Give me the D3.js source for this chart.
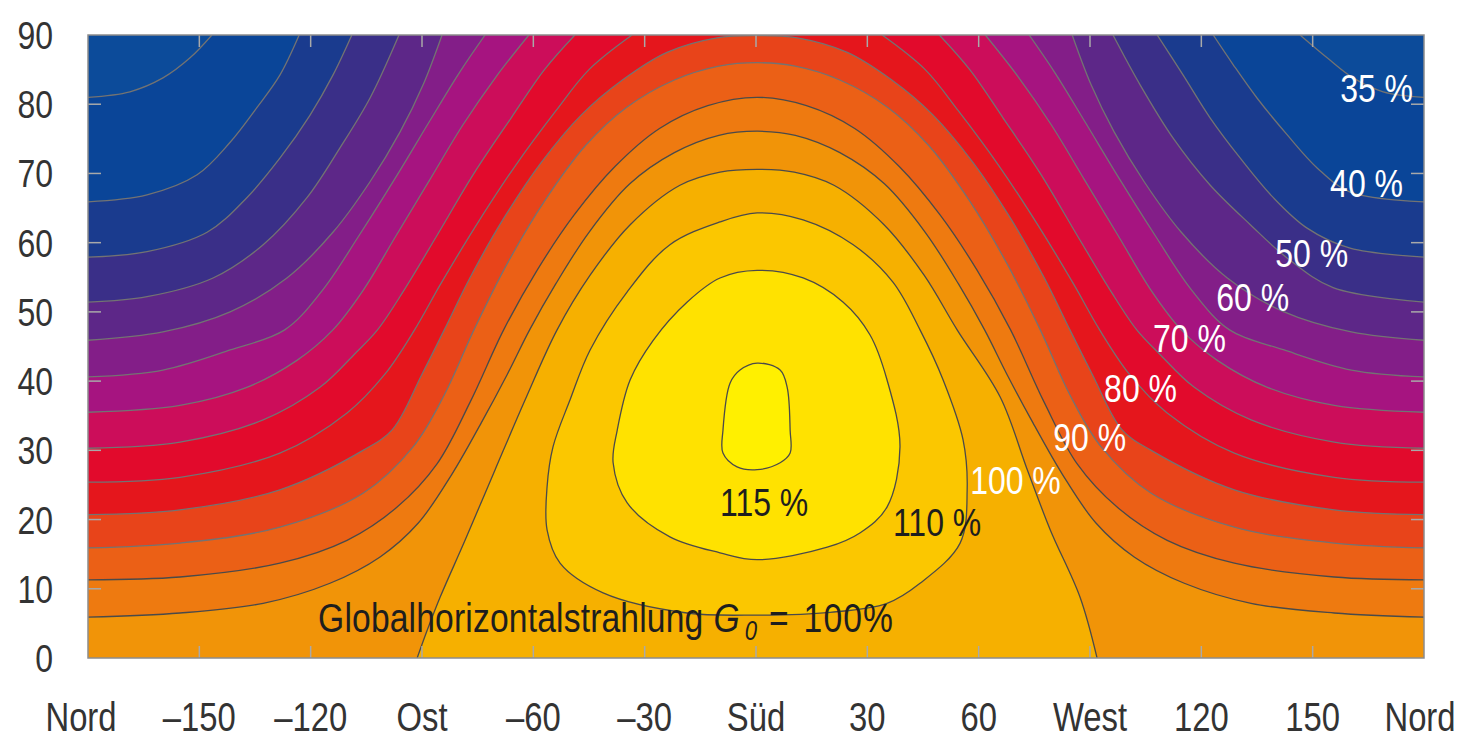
<!DOCTYPE html>
<html><head><meta charset="utf-8">
<script src="https://cdn.jsdelivr.net/npm/d3@7"></script>
<style>
html,body{margin:0;padding:0;background:#fff;}
svg{display:block;}
</style></head><body>
<svg id="chart" width="1466" height="739"></svg>
<script>
// ---------- data ----------
const azimuthTicks = [-180,-150,-120,-90,-60,-30,0,30,60,90,120,150,180];
const azimuthLabels = ["Nord","–150","–120","Ost","–60","–30","Süd","30","60","West","120","150","Nord"];
const tiltTicks = [0,10,20,30,40,50,60,70,80,90];
const levels = [35,40,45,50,55,60,65,70,75,80,85,90,95,100,105,110,115];
const closedLevels = [105,110,115];
const bandColors = ["#0c4b9a","#0a4598","#1a3b8e","#3a2f88","#5d2788","#831e88","#a61480","#cc0d5a",
                    "#e20a2c","#e5161c","#e8441a","#eb6016","#ee7a10","#f19408","#f6b000","#fbc700","#ffe200","#fff000"];

const line35 = [
 [[-180,81.0],[-168.7,81.8],[-159.8,83.8],[-152.5,86.7],[-146.6,90]],
 [[146.6,90],[153.9,86.7],[160.9,83.8],[169.0,81.8],[180,81.0]]];
const line40 = [
 [[-180,65.9],[-164.1,66.9],[-150.6,69.8],[-141.7,74.5],[-134.5,79.5],[-128.3,84.2],[-123.1,90]],
 [[123.2,90],[128.6,85.7],[135.0,80.9],[143.1,75.6],[151.2,70.8],[160.1,67.3],[180,65.9]]];
const line45 = [
 [[-180,57.9],[-164.1,58.7],[-147.9,61.5],[-137.2,66.5],[-128.3,72.2],[-120.2,78.4],[-114.0,84.2],[-108.9,90]],
 [[108.1,90],[115.1,84.2],[122.4,78.0],[130.5,72.2],[139.4,66.5],[148.5,62.1],[160.1,59.2],[180,57.9]]];
const line50 = [
 [[-180,51.4],[-164.1,52.2],[-146.3,54.9],[-132.8,59.7],[-121.0,66.5],[-112.1,73.7],[-104.0,80.9],[-96.2,90]],
 [[96.2,90],[103.5,82.8],[112.4,75.1],[122.4,68.3],[133.2,62.6],[143.1,57.8],[155.5,53.5],[180,51.4]]];
const line55 = [
 [[-180,45.9],[-159.8,47.1],[-141.7,50.0],[-126.4,54.9],[-114.0,61.5],[-104.0,68.8],[-95.9,76.0],[-89.7,82.8],[-84.6,90]],
 [[85.2,90],[90.3,82.8],[96.5,76.0],[104.6,68.8],[114.6,61.5],[127.0,54.9],[142.3,50.0],[160.4,47.1],[180,45.9]]];
const line60 = [
 [[-180,40.6],[-159.8,41.6],[-141.7,44.5],[-127,47.4],[-117,53],[-107,61],[-97,69.5],[-88,77.5],[-80,84.5],[-73.0,90]],
 [[73.6,90],[80.6,84.5],[88.6,77.5],[97.6,69.5],[107.6,61],[117.6,53],[127.6,47.4],[142.3,44.5],[160.4,41.6],[180,40.6]]];
const line65 = [
 [[-180,35.5],[-155.2,36.5],[-137.2,39.1],[-123.7,43.0],[-114,47.4],[-106,53],[-97,61],[-88,69],[-79,77],[-70,84],[-61.2,90]],
 [[61.8,90],[70.6,84],[79.6,77],[88.6,69],[97.6,61],[106.6,53],[114.6,47.4],[124.3,43.0],[137.8,39.1],[155.8,36.5],[180,35.5]]];
const line70 = [
 [[-180,30.3],[-155.2,31.2],[-132.8,34.4],[-117.5,39.1],[-108,44],[-102,47.4],[-95,53],[-86,61],[-76,70],[-66,78],[-57,85],[-48.8,90]],
 [[49.4,90],[57.6,85],[66.6,78],[76.6,70],[86.6,61],[95.6,53],[102.6,47.4],[108.6,44],[118.1,39.1],[133.4,34.4],[155.8,31.2],[180,30.3]]];
const line75 = [
 [[-180,25.4],[-155.2,26.1],[-128.3,29.6],[-110.2,35.4],[-100,41],[-92,47.4],[-85,54],[-76,62],[-65,71],[-54,79],[-45,85],[-33.4,90]],
 [[34.0,90],[45.6,85],[54.6,79],[65.6,71],[76.6,62],[85.6,54],[92.6,47.4],[100.6,41],[110.8,35.4],[128.9,29.6],[155.8,26.1],[180,25.4]]];
const line80 = [
 [[-180,20.7],[-155.2,21.4],[-128.3,24.3],[-105.9,30.0],[-98,33],[-90,41],[-84,47.4],[-77,55],[-68,63.5],[-58,71.5],[-47,78.5],[-36,83.5],[-24,87.5],[-10.5,89.6],[0.3,89.9],
  [11.1,89.6],[24.6,87.5],[36.6,83.5],[47.6,78.5],[58.6,71.5],[68.6,63.5],[77.6,55],[84.6,47.4],[90.6,41],[98.6,33],[106.5,30.0],[128.9,24.3],[155.8,21.4],[180,20.7]]];
const line85 = [
 [[-180,15.9],[-155.2,16.6],[-128.3,18.9],[-105.9,23.8],[-92.4,30.5],[-84,38],[-76,47.4],[-67,57],[-57,66],[-46,74],[-35,79.5],[-22,83.5],[-10,85.5],[0.3,86.0],
  [10.6,85.5],[22.6,83.5],[35.6,79.5],[46.6,74],[57.6,66],[67.6,57],[76.6,47.4],[84.6,38],[93,30.5],[106.5,23.8],[128.9,18.9],[155.8,16.6],[180,15.9]]];
const line90 = [
 [[-180,11.3],[-155.2,11.7],[-128.3,13.7],[-110.2,17.0],[-96.7,21.8],[-86,28],[-77,37],[-68,47.4],[-59,56],[-49,64],[-38,71],[-26,76.5],[-13,79.8],[0.3,81.0],
  [13.6,79.8],[26.6,76.5],[38.6,71],[49.6,64],[59.6,56],[68.6,47.4],[77.6,37],[86.6,28],[97.3,21.8],[110.8,17.0],[128.9,13.7],[155.8,11.7],[180,11.3]]];
const line95 = [
 [[-180,5.9],[-155.2,6.5],[-132.8,7.9],[-114.8,10.8],[-101.3,14.6],[-91,19.5],[-82,26.5],[-74,34],[-67,41],[-61,47.4],[-54,54],[-45,61.5],[-34,68.5],[-22,73],[-10,75.5],[0.3,76.1],
  [10.6,75.5],[22.6,73],[34.6,68.5],[45.6,61.5],[54.6,54],[61.6,47.4],[67.6,41],[74.6,34],[82.6,26.5],[91.6,19.5],[101.9,14.6],[115.4,10.8],[133.4,7.9],[155.8,6.5],[180,5.9]]];
const line100 = [
 [[-91.3,0],[-88.6,4.0],[-85.1,8.8],[-78.4,17.0],[-70.3,27.2],[-62.2,37.3],[-53.6,47.4],[-44.7,55.3],[-33.9,62.6],[-20.5,68.3],[-9.7,70.2],[0.3,70.6],
  [10.3,70.2],[21.0,68.3],[34.5,62.6],[45.3,55.3],[54.2,47.4],[65.8,37.7],[73.1,27.2],[79.3,18.5],[87.3,8.8],[91.9,0]]];
const line105 = [
 [[0.3,6.2],[-18.6,6.5],[-41.2,9.4],[-52.8,13.7],[-56.3,18.5],[-56.3,24.7],[-54.7,30.5],[-50.1,37.3],[-44.7,44.5],[-34.7,52.9],[-23.2,59.7],[-9.7,63.0],[0.3,64.3],
  [12.7,63.3],[26.2,59.7],[36.9,54.3],[44.2,47.4],[50.4,40.2],[55.8,31.5],[56.9,24.3],[55.0,16.6],[44.2,10.8],[35.3,7.9],[20.0,6.6]]];
const line110 = [
 [[0.3,14.2],[-9.7,15.2],[-23.2,17.5],[-34.7,22.4],[-38.5,28.2],[-37.4,32.9],[-33.9,40.2],[-27.7,45.9],[-18.6,51.4],[-9.7,54.9],[0.3,56.0],
  [12.7,54.9],[23.5,51.4],[30.7,46.7],[35.3,40.2],[38.8,30.5],[35.3,21.8],[28.1,18.1],[19.2,16.0]]];
const line115 = [
 [[0.3,42.6],[6.5,41.6],[8.4,39.1],[9.2,32.9],[9.2,29.6],[6.5,28.2],[0.3,27.2],[-5.1,27.6],[-8.9,29.6],[-8.9,32.9],[-7.0,39.7],[-4.3,41.6]]];
const contourLines = [line35,line40,line45,line50,line55,line60,line65,line70,line75,line80,line85,line90,line95,line100,line105,line110,line115];

const labelTexts = ["35 %","40 %","50 %","60 %","70 %","80 %","90 %","100 %","110 %","115 %"];
const labelAnchors = [[157.4,80.3],[154.7,66.6],[139.9,56.5],[124.0,50.1],[107.0,44.2],[93.8,37.0],[80.1,29.9],[57.7,23.7],[36.9,17.6],[-9.7,20.5]];
const labelDark = [false,false,false,false,false,false,false,false,true,true];
const noteParts = ["Globalhorizontalstrahlung","G","0","=","100%"];
const noteAnchor = [-118.0,3.8];

// ---------- drawing ----------
const svg = d3.select("#chart");
const x = d3.scaleLinear().domain([-180,180]).range([88,1424]);
const y = d3.scaleLinear().domain([0,90]).range([658,35]);

const ctx = document.createElement("canvas").getContext("2d");
ctx.font = '40px "Liberation Sans Narrow", monospace';
const wN = ctx.measureText("West Nord").width;
ctx.font = '40px monospace';
const wM = ctx.measureText("West Nord").width;
const hasNarrow = Math.abs(wN - wM) > 1;
const FONT = hasNarrow ? '"Liberation Sans Narrow", "Liberation Sans", Arial, sans-serif' : '"Liberation Sans", Arial, sans-serif';
function condense(sel){
  if (hasNarrow) return;
  sel.each(function(){
    const len = this.getComputedTextLength();
    d3.select(this).attr("textLength", len*0.82).attr("lengthAdjust","spacingAndGlyphs");
  });
}

const defs = svg.append("defs");
defs.append("clipPath").attr("id","plotclip").append("rect")
  .attr("x", x(-180)).attr("y", y(90)).attr("width", x(180)-x(-180)).attr("height", y(0)-y(90));

const g = svg.append("g").attr("clip-path","url(#plotclip)");
g.append("rect").attr("x", x(-180)).attr("y", y(90)).attr("width", x(180)-x(-180)).attr("height", y(0)-y(90))
  .attr("fill", bandColors[0]);

const openGen = d3.line().x(d=>x(d[0])).y(d=>y(d[1])).curve(d3.curveCatmullRom.alpha(0.5));
const loopGen = d3.line().x(d=>x(d[0])).y(d=>y(d[1])).curve(d3.curveCatmullRomClosed.alpha(0.5));

function fillPath(pieces, closed){
  if (closed) return loopGen(pieces[0]);
  let s = pieces.map((p,i)=>{ const d = openGen(p); return i===0 ? d : "L" + d.slice(1); }).join("");
  const last = pieces[pieces.length-1], lp = last[last.length-1];
  if (lp[0] === 180) s += `L${x(180)},${y(0)}L${x(-180)},${y(0)}`;
  return s + "Z";
}

levels.forEach((lv,i)=>{
  const closed = closedLevels.includes(lv);
  g.append("path").attr("d", fillPath(contourLines[i], closed)).attr("fill", bandColors[i+1]);
});
levels.forEach((lv,i)=>{
  const closed = closedLevels.includes(lv);
  contourLines[i].forEach(p=>{
    g.append("path").attr("d", closed ? loopGen(p) : openGen(p))
      .attr("fill","none").attr("stroke", lv >= 90 ? "#4a4a4a" : "#737373").attr("stroke-width",1.3);
  });
});

const tickCol = "#a9a9a9";
azimuthTicks.slice(1,-1).forEach(a=>{
  svg.append("line").attr("x1",x(a)).attr("x2",x(a)).attr("y1",y(90)).attr("y2",y(90)+12).attr("stroke",tickCol).attr("stroke-width",1.5);
  svg.append("line").attr("x1",x(a)).attr("x2",x(a)).attr("y1",y(0)).attr("y2",y(0)-12).attr("stroke",tickCol).attr("stroke-width",1.5);
});
tiltTicks.slice(1,-1).forEach(t=>{
  svg.append("line").attr("x1",x(-180)).attr("x2",x(-180)+13).attr("y1",y(t)).attr("y2",y(t)).attr("stroke",tickCol).attr("stroke-width",1.5);
  svg.append("line").attr("x1",x(180)).attr("x2",x(180)-13).attr("y1",y(t)).attr("y2",y(t)).attr("stroke",tickCol).attr("stroke-width",1.5);
});

svg.append("rect").attr("x", x(-180)).attr("y", y(90)).attr("width", x(180)-x(-180)).attr("height", y(0)-y(90))
  .attr("fill","none").attr("stroke","#8c8c8c").attr("stroke-width",1.5);

const yl = svg.append("g").selectAll("text").data(tiltTicks).join("text")
  .attr("x", 53).attr("y", d=>y(d)).attr("dy","0.36em").attr("text-anchor","end")
  .attr("font-family", FONT).attr("font-size", 39).attr("fill","#333")
  .text(d=>d);
condense(yl);
const xl = svg.append("g").selectAll("text").data(azimuthTicks).join("text")
  .attr("x", (d,i)=>x(d) + (i===0 ? -7 : (i===azimuthTicks.length-1 ? -4 : 0))).attr("y", 731).attr("text-anchor","middle")
  .attr("font-family", FONT).attr("font-size", 40).attr("fill","#333")
  .text((d,i)=>azimuthLabels[i]);
condense(xl);

const ll = svg.append("g").selectAll("text").data(labelTexts).join("text")
  .attr("x",(d,i)=>x(labelAnchors[i][0])).attr("y",(d,i)=>y(labelAnchors[i][1]))
  .attr("font-family", FONT).attr("font-size", 39)
  .attr("fill",(d,i)=>labelDark[i] ? "#1e1e1e" : "#ffffff")
  .text(d=>d);
condense(ll);

// note: separate text pieces laid out one after another
const noteStyle = [
  {gap:0,  size:41, italic:false, dy:0, ls:0.2},
  {gap:10, size:41, italic:true,  dy:0, ls:0},
  {gap:5,  size:27, italic:true,  dy:8, ls:0},
  {gap:12, size:41, italic:false, dy:0, ls:0},
  {gap:15, size:41, italic:false, dy:0, ls:1.4}
];
let cx = x(noteAnchor[0]);
const ny = y(noteAnchor[1]);
noteParts.forEach((t,i)=>{
  const st = noteStyle[i];
  cx += st.gap;
  const el = svg.append("text").attr("x", cx).attr("y", ny + st.dy)
    .attr("font-family", FONT).attr("font-size", st.size).attr("fill","#1e1e1e")
    .attr("font-style", st.italic ? "italic" : "normal").attr("letter-spacing", st.ls)
    .text(t);
  condense(el);
  const n = el.node();
  cx += n.getAttribute("textLength") ? +n.getAttribute("textLength") : n.getComputedTextLength();
});
</script>
</body></html>
